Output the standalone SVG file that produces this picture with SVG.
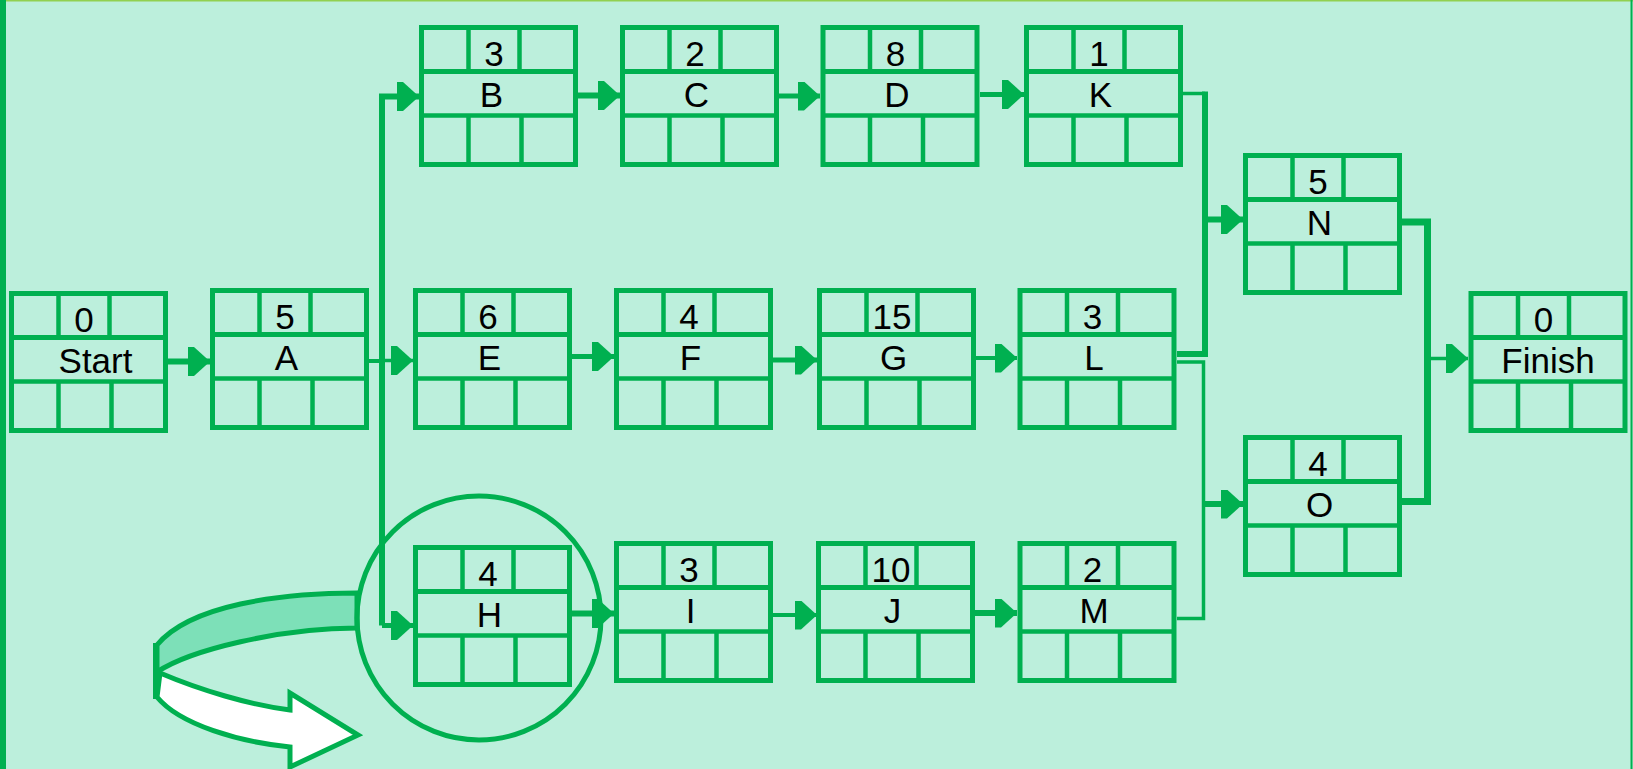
<svg xmlns="http://www.w3.org/2000/svg" xmlns:xlink="http://www.w3.org/1999/xlink" width="1633" height="769" viewBox="0 0 1633 769">
<style>
.g{stroke:#00B050;fill:none}
.t{font-family:"Liberation Sans",Arial,sans-serif;font-size:35px;fill:#000;text-anchor:middle}
</style>
<defs>
<marker id="arr" markerUnits="userSpaceOnUse" markerWidth="24" markerHeight="30" refX="22" refY="14.5" orient="auto">
<path d="M0,0 L6,0 L22,14.5 L6,29 L0,29 Z" fill="#00B050"/>
</marker>
<g id="box" class="g">
<rect x="0" y="0" width="154" height="137" stroke-width="5"/>
<line x1="0" y1="44" x2="154" y2="44" stroke-width="5"/>
<line x1="0" y1="88" x2="154" y2="88" stroke-width="4.5"/>
<line x1="47" y1="0" x2="47" y2="44" stroke-width="4.5"/>
<line x1="98" y1="0" x2="98" y2="44" stroke-width="4.5"/>
<line x1="47" y1="88" x2="47" y2="137" stroke-width="4.5"/>
<line x1="100" y1="88" x2="100" y2="137" stroke-width="4.5"/>
</g>
</defs>
<rect x="0" y="0" width="1633" height="769" fill="#BCEFDC"/>
<line x1="0" y1="0.5" x2="1633" y2="0.5" stroke="#92D050" stroke-width="2"/>
<rect x="0" y="0" width="6" height="769" fill="#00B050"/>
<line x1="1631.5" y1="0" x2="1631.5" y2="769" stroke="#00B050" stroke-width="2"/>

<g id="ribbon">
<path d="M357,593 C280,593 190,605 157,645 L157,672 C190,650 280,628 357,628 Z" fill="#7DE0B8" stroke="#00B050" stroke-width="5"/>
<path d="M160,673 C200,690 250,705 290,710 L290,693 L358,735 L290,767 L290,747 C240,742 180,725 157,697 Z" fill="#FFFFFF" stroke="#00B050" stroke-width="5"/>
<line x1="156" y1="643" x2="156" y2="699" stroke="#00B050" stroke-width="6"/>
</g>

<g id="connectors" class="g">
<path d="M166,361.5 L210,361.5" stroke-width="6" marker-end="url(#arr)"/>
<path d="M369,361 L382,361" stroke-width="4"/>
<path d="M382,625.5 L382,96.5 L419,96.5" stroke-width="6" marker-end="url(#arr)"/>
<path d="M382,360.5 L413,360.5" stroke-width="3.5" marker-end="url(#arr)"/>
<path d="M382,625.5 L413,625.5" stroke-width="5" marker-end="url(#arr)"/>
<path d="M576,95.5 L620,95.5" stroke-width="6" marker-end="url(#arr)"/>
<path d="M776,96 L820,96" stroke-width="5" marker-end="url(#arr)"/>
<path d="M980,94.5 L1024,94.5" stroke-width="5" marker-end="url(#arr)"/>
<path d="M1180,93.5 L1205,93.5" stroke-width="3.5"/>
<path d="M1205,91.5 L1205,357" stroke-width="6"/>
<path d="M1177,354 L1205,354" stroke-width="6"/>
<path d="M1205,219.5 L1243,219.5" stroke-width="6" marker-end="url(#arr)"/>
<path d="M1177,362 L1203.5,362 L1203.5,618.5 L1177,618.5" stroke-width="3.5"/>
<path d="M1203.5,504 L1243,504" stroke-width="6" marker-end="url(#arr)"/>
<path d="M1402,222 L1427.5,222 L1427.5,501.5 L1402,501.5" stroke-width="7"/>
<path d="M1427.5,358.5 L1468,358.5" stroke-width="3.5" marker-end="url(#arr)"/>
<path d="M570,356.5 L614,356.5" stroke-width="5" marker-end="url(#arr)"/>
<path d="M773,360 L817,360" stroke-width="5" marker-end="url(#arr)"/>
<path d="M973,358 L1017,358" stroke-width="4" marker-end="url(#arr)"/>
<path d="M570,613.5 L614,613.5" stroke-width="6" marker-end="url(#arr)"/>
<path d="M773,615 L817,615" stroke-width="4" marker-end="url(#arr)"/>
<path d="M974,613 L1017,613" stroke-width="6" marker-end="url(#arr)"/>
</g>

<g id="node-Start" transform="translate(11.5,293.5)"><use href="#box" xlink:href="#box"/><text class="t" x="72.5" y="38">0</text><text class="t" x="84" y="79">Start</text></g>
<g id="node-A" transform="translate(212.5,290.5)"><use href="#box" xlink:href="#box"/><text class="t" x="72.5" y="38">5</text><text class="t" x="74" y="79">A</text></g>
<g id="node-B" transform="translate(421.5,27.5)"><use href="#box" xlink:href="#box"/><text class="t" x="72.5" y="38">3</text><text class="t" x="70" y="79">B</text></g>
<g id="node-C" transform="translate(622.5,27.5)"><use href="#box" xlink:href="#box"/><text class="t" x="72.5" y="38">2</text><text class="t" x="74" y="79">C</text></g>
<g id="node-D" transform="translate(823,27.5)"><use href="#box" xlink:href="#box"/><text class="t" x="72.5" y="38">8</text><text class="t" x="74" y="79">D</text></g>
<g id="node-K" transform="translate(1026.5,27.5)"><use href="#box" xlink:href="#box"/><text class="t" x="72.5" y="38">1</text><text class="t" x="74" y="79">K</text></g>
<g id="node-E" transform="translate(415.5,290.5)"><use href="#box" xlink:href="#box"/><text class="t" x="72.5" y="38">6</text><text class="t" x="74" y="79">E</text></g>
<g id="node-F" transform="translate(616.5,290.5)"><use href="#box" xlink:href="#box"/><text class="t" x="72.5" y="38">4</text><text class="t" x="74" y="79">F</text></g>
<g id="node-G" transform="translate(819.5,290.5)"><use href="#box" xlink:href="#box"/><text class="t" x="72.5" y="38">15</text><text class="t" x="74" y="79">G</text></g>
<g id="node-L" transform="translate(1020,290.5)"><use href="#box" xlink:href="#box"/><text class="t" x="72.5" y="38">3</text><text class="t" x="74" y="79">L</text></g>
<g id="node-N" transform="translate(1245.5,155.5)"><use href="#box" xlink:href="#box"/><text class="t" x="72.5" y="38">5</text><text class="t" x="74" y="79">N</text></g>
<g id="node-O" transform="translate(1245.5,437.5)"><use href="#box" xlink:href="#box"/><text class="t" x="72.5" y="38">4</text><text class="t" x="74" y="79">O</text></g>
<g id="node-Finish" transform="translate(1471,293.5)"><use href="#box" xlink:href="#box"/><text class="t" x="72.5" y="38">0</text><text class="t" x="77" y="79">Finish</text></g>
<g id="node-H" transform="translate(415.5,547.5)"><use href="#box" xlink:href="#box"/><text class="t" x="72.5" y="38">4</text><text class="t" x="74" y="79">H</text></g>
<g id="node-I" transform="translate(616.5,543.5)"><use href="#box" xlink:href="#box"/><text class="t" x="72.5" y="38">3</text><text class="t" x="74" y="79">I</text></g>
<g id="node-J" transform="translate(818.5,543.5)"><use href="#box" xlink:href="#box"/><text class="t" x="72.5" y="38">10</text><text class="t" x="74" y="79">J</text></g>
<g id="node-M" transform="translate(1020,543.5)"><use href="#box" xlink:href="#box"/><text class="t" x="72.5" y="38">2</text><text class="t" x="74" y="79">M</text></g>

<circle id="highlight" cx="479" cy="618" r="122" fill="none" stroke="#00B050" stroke-width="5"/>
</svg>
